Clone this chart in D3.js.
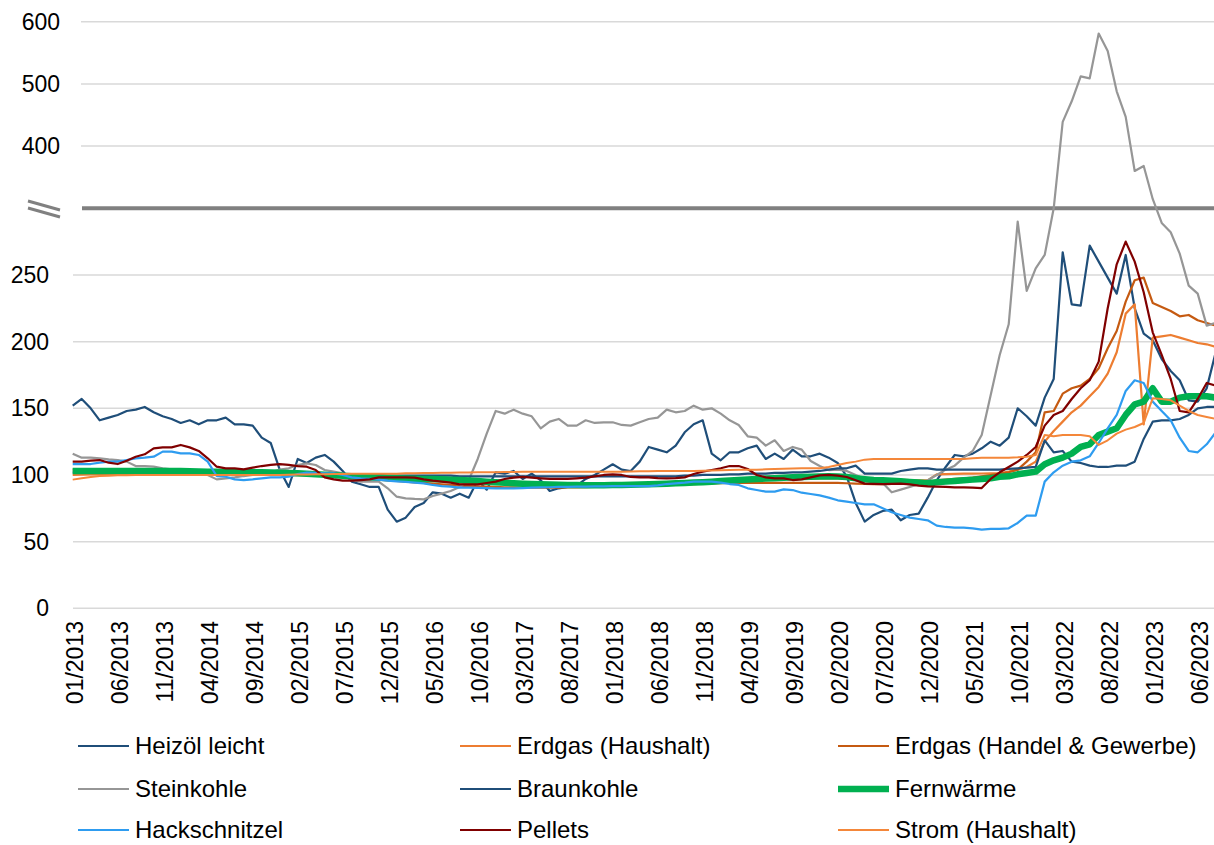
<!DOCTYPE html>
<html>
<head>
<meta charset="utf-8">
<script src="https://cdn.jsdelivr.net/npm/d3@7"></script>
<style>
  body { margin: 0; background: #fff; }
  svg { display: block; font-family: "Liberation Sans", Arial, sans-serif; }
</style>
</head>
<body>
<svg id="chart" width="1214" height="845"></svg>
<script>

// Monthly index values, 01/2013 .. 08/2023 (128 months)
var firstYear = 2013;

var tickLabels = ["01/2013", "06/2013", "11/2013", "04/2014", "09/2014", "02/2015", "07/2015",
  "12/2015", "05/2016", "10/2016", "03/2017", "08/2017", "01/2018", "06/2018", "11/2018",
  "04/2019", "09/2019", "02/2020", "07/2020", "12/2020", "05/2021", "10/2021", "03/2022",
  "08/2022", "01/2023", "06/2023"];

var lowerTicks = [0, 50, 100, 150, 200, 250];
var upperTicks = [400, 500, 600];

var heizoel = [
  152, 157, 150, 141, 143, 145, 148, 149, 151, 147,
  144, 142, 139, 141, 138, 141, 141, 143, 138, 138,
  137, 128, 124, 104, 91, 112, 109, 113, 115, 110,
  103, 95, 93, 91, 91, 74, 65, 68, 76, 79,
  87, 86, 83, 86, 83, 96, 89, 102, 101, 103,
  97, 101, 96, 88, 90, 91, 92, 97, 100, 104,
  108, 104, 103, 110, 121, 119, 117, 122, 132, 138,
  141, 116, 111, 117, 117, 120, 122, 112, 116, 112,
  119, 114, 114, 116, 113, 109, 99, 79, 65, 70,
  73, 74, 66, 70, 71, 83, 96, 106, 115, 114,
  116, 120, 125, 122, 128, 150, 144, 137, 158, 172,
  267, 228, 227, 272, 260, 248, 236, 265, 225, 206,
  201, 187, 178, 171, 156, 155, 165, 192];

var gasHaushalt = [
  100, 100.2, 100.4, 100.5, 100.6, 100.6, 100.7, 100.7, 100.7, 100.7,
  100.8, 100.8, 100.8, 100.8, 100.8, 100.8, 100.8, 100.8, 100.7, 100.7,
  100.6, 100.5, 100.4, 100.3, 100.2, 100, 99.8, 99.6, 99.4, 99.2,
  99, 98.7, 98.4, 98, 97.6, 97.2, 96.8, 96.4, 96, 95.7,
  95.4, 95.1, 94.8, 94.5, 94.3, 94.1, 94, 93.8, 93.6, 93.5,
  93.4, 93.3, 93.2, 93.1, 93, 93, 93, 93, 93, 93,
  93, 93, 93.2, 93.4, 93.6, 93.8, 94, 94.2, 94.5, 94.8,
  95, 95.3, 95.6, 95.9, 96.2, 96.5, 96.7, 96.9, 97, 97.1,
  97.2, 97.3, 97.4, 97.5, 97.5, 97.5, 97.4, 97.3, 97.2, 97,
  96.8, 96.6, 96.4, 96.2, 96, 96, 100.5, 100.7, 100.8, 101,
  101, 101.1, 101.2, 101.2, 102.5, 104, 106, 110, 125, 133,
  140, 147, 152, 159, 166, 176, 192, 221, 228, 138,
  203, 204, 205, 203, 201, 199, 198, 196];

var gasGewerbe = [
  104, 104.2, 104.3, 104.3, 104.2, 104, 103.8, 103.7, 103.6, 103.5,
  103.4, 103.3, 103.2, 103, 102.6, 102.2, 101.8, 101.4, 101, 100.7,
  100.5, 100.3, 100.2, 100.1, 100, 99.9, 99.8, 99.5, 99.2, 99,
  98.5, 98, 97.5, 97, 96.5, 96, 95.5, 95, 94.5, 94,
  93.5, 93, 92.5, 92, 91.7, 91.4, 91.2, 91, 90.8, 90.7,
  90.6, 90.5, 90.5, 90.5, 90.5, 90.6, 90.7, 90.8, 91, 91.2,
  91.4, 91.6, 91.8, 92, 92.2, 92.4, 92.6, 92.8, 93, 93.2,
  93.4, 93.6, 93.8, 94, 94, 94, 94, 94, 94, 94,
  94, 94, 94, 94, 94, 94, 93.8, 93.5, 93.3, 93.2,
  93.2, 93.3, 93.5, 93.7, 94, 94.2, 96, 96.5, 97, 97.5,
  98, 99, 100, 101, 102, 104, 110, 117, 147, 148,
  161, 165, 167, 172, 180, 195, 208, 230, 246, 248,
  229, 226, 223, 219, 220, 216, 214, 212];

var steinkohle = [
  116, 113, 113, 112.5, 111.7, 111.2, 110, 106.7, 106.7, 106.2,
  105, 104.2, 103.7, 103.2, 103, 100, 96.7, 97.5, 98.2, 99.2,
  100, 101, 102, 104, 105, 107.5, 108.7, 107.5, 103.7, 102.5,
  101.2, 96.2, 95, 95, 95, 90, 83.7, 82.5, 82, 81.7,
  84.2, 86, 88, 91, 96, 112, 131, 148, 146, 149,
  146, 144, 135, 140, 142, 137, 137, 141, 139, 139.5,
  139.5, 137.5, 137, 139.5, 142, 143, 149, 147, 148, 152,
  149, 150, 146, 141, 137.5, 129, 128, 122, 126, 118,
  121, 119, 110.5, 106.7, 103.7, 104, 103, 100, 97, 95,
  94, 87, 89, 91, 93, 96, 100, 104, 107, 113,
  118, 130, 160, 190, 213, 290, 238, 255, 265, 300,
  439, 472, 512, 509, 581, 553, 488, 447, 360, 368,
  315, 289, 282, 266, 242, 236, 212, 214];

var braunkohle = [
  102, 102, 102, 102, 102, 102, 102, 102, 102, 102,
  102, 102, 102, 102, 101.5, 101.5, 101, 101, 101, 101,
  101, 101, 101, 101, 100.5, 100.5, 100.5, 100.5, 100, 100,
  100, 100, 100, 100, 100, 99.5, 99.5, 99.5, 99.5, 99.5,
  99.5, 99.5, 99.5, 99, 99, 99, 99, 99, 99, 99,
  99, 99, 99, 99, 99, 99, 99, 99, 99, 99,
  99, 99, 99, 99, 99, 99, 99, 99, 99.5, 99.5,
  100, 100, 100, 100.5, 100.5, 101, 101, 101, 101.5, 101.5,
  102, 102, 102.5, 103, 104, 105, 105, 107, 101, 101,
  101, 101, 103, 104, 105, 105, 104, 104, 104, 104,
  104, 104, 104, 104, 104.5, 105, 105.5, 106, 126, 117,
  118, 110, 109, 107, 106, 106, 107, 107, 110, 127,
  140, 141, 141, 142, 145, 150, 151, 151];

var fernwaerme = [
  103, 103, 103, 103, 103, 103, 103, 103, 103, 103,
  103, 103, 103, 102.8, 102.6, 102.5, 102.4, 102.3, 102.2, 102.1,
  102, 102, 101.8, 101.6, 101.4, 101.2, 101, 100.6, 100.2, 99.8,
  99.4, 99, 98.6, 98.2, 98, 97.8, 97.6, 97.4, 97.2, 97,
  97, 96.8, 96.5, 96.2, 95.8, 95.4, 95, 94.6, 94.2, 93.8,
  93.5, 93.2, 93, 92.8, 92.6, 92.5, 92.4, 92.3, 92.3, 92.3,
  92.4, 92.5, 92.6, 92.8, 93, 93.2, 93.5, 93.8, 94, 94.3,
  94.6, 95, 95.4, 95.8, 96.2, 96.6, 97, 97.3, 97.6, 97.9,
  98.2, 98.4, 98.6, 98.8, 99, 98.8, 98.5, 97.5, 96.8, 96.2,
  96, 95.6, 95.2, 94.8, 94.4, 93.8, 94.5, 95, 95.5, 96,
  96.5, 97, 97.5, 98.7, 99, 100.5, 101.5, 102.5, 108, 111,
  113, 116, 121, 123, 130, 132.5, 135, 145, 153, 155,
  165, 155, 155, 158, 159, 159, 159, 158];

var hackschnitzel = [
  108.2, 108.2, 108.2, 109.2, 110, 110, 111.2, 112.5, 113, 113.7,
  117.5, 117.5, 116.2, 116.2, 115, 110, 99.2, 98.7, 96.7, 96.2,
  96.7, 97.5, 98.2, 98.2, 98.7, 100.7, 101.7, 101.5, 101.2, 101.2,
  100, 98.2, 97.5, 97, 96.5, 95.7, 95.2, 94.8, 94.2, 93.7,
  92.5, 91.7, 91.2, 90.5, 90.5, 90.3, 90.2, 90, 90, 90,
  90.2, 90.5, 90.7, 90.8, 91, 91, 91.2, 91.3, 91.5, 91.5,
  91.6, 91.7, 91.7, 91.7, 91.7, 92.2, 93.2, 93.7, 94.2, 95,
  95, 95, 94.2, 93.2, 92.5, 90, 88.7, 87.5, 87.5, 89.2,
  88.7, 86.7, 85.7, 84.7, 83, 81, 80, 79, 78, 78,
  75, 72, 70, 68, 67, 66, 62, 61, 60.5, 60.5,
  60, 59, 59.5, 59.5, 60, 64, 69.5, 69.5, 95, 102,
  107, 110, 111, 114, 124, 135, 145, 163, 171, 169,
  155, 148, 141, 128, 118, 117, 123, 132];

var pellets = [
  110, 110, 110.7, 111.2, 109.2, 108.2, 110.7, 113.7, 115.5, 120,
  120.7, 120.7, 122.5, 120.7, 118, 112.5, 106.2, 105, 105, 104.2,
  105.5, 106.7, 107.5, 108.2, 107.5, 106.7, 106.2, 103.7, 98.2, 96.7,
  95.7, 95.7, 96.2, 96.7, 98.2, 98.2, 98.2, 98.2, 98, 96.7,
  95.7, 95, 94.2, 93, 93, 93, 94, 95, 97, 98,
  98.5, 98, 97.5, 97, 97, 97, 97.5, 98, 99, 100,
  100.5, 100, 98.5, 98.2, 98.2, 97.7, 97.5, 97.7, 98.2, 100.7,
  102.5, 103.7, 105, 106.7, 106.7, 104.5, 100, 98.2, 97.5, 97.5,
  96.2, 96.7, 98.2, 99.7, 100, 99.5, 98.5, 96, 93.5, 93.3,
  93.2, 93.3, 93.5, 93, 92, 91.5, 91.2, 91, 90.7, 90.7,
  90.5, 90.2, 97, 102, 106, 110, 115, 121, 137, 145,
  148, 157, 165, 171, 185, 225, 258, 275, 260, 237,
  207, 190, 172, 148, 147, 157, 169, 167];

var strom = [
  96.5, 97.5, 98.5, 99.2, 99.5, 99.7, 99.8, 99.9, 100, 100,
  100, 100, 100, 100, 100, 100, 100, 100, 100, 100,
  100, 100, 100, 100, 100.2, 100.3, 100.4, 100.5, 100.6, 100.7,
  100.8, 100.9, 101, 101, 101, 101, 101, 101.2, 101.3, 101.4,
  101.5, 101.6, 101.7, 101.8, 101.9, 102, 102, 102.1, 102.2, 102.3,
  102.4, 102.5, 102.5, 102.5, 102.5, 102.5, 102.5, 102.5, 102.5, 102.5,
  102.5, 102.5, 102.6, 102.7, 102.8, 103, 103, 103, 103, 103,
  103.2, 103.4, 103.6, 103.8, 104, 104, 104, 104.2, 104.4, 104.6,
  104.8, 105, 105, 105, 106, 107.5, 109, 110, 111.5, 112,
  112, 112, 112, 112, 112, 112, 112, 112, 112, 112,
  112.5, 113, 113, 113, 113, 113.2, 113.7, 115, 130, 129,
  130, 130, 130, 129, 122.5, 126, 131, 134, 136, 139,
  157.5, 157, 156, 152, 148, 145, 143.5, 142];

// Legend order = drawing order
var seriesNames = ["Heizöl leicht", "Erdgas (Haushalt)", "Erdgas (Handel & Gewerbe)",
  "Steinkohle", "Braunkohle", "Fernwärme", "Hackschnitzel", "Pellets", "Strom (Haushalt)"];
var seriesValues = [heizoel, gasHaushalt, gasGewerbe, steinkohle, braunkohle,
  fernwaerme, hackschnitzel, pellets, strom];
var seriesColors = ["#1f4e79", "#ed7d31", "#c55a11", "#969696", "#1f4e79",
  "#00b050", "#2e9cf0", "#800000", "#f4873a"];
var seriesWidths = [2.2, 2.2, 2.2, 2.2, 2.2, 6.5, 2.2, 2.2, 2];

var svg = d3.select("#chart");

// Plot area (category axis on tick marks, one month = 9px)
var x0 = 72.7, step = 9.0;
var nMonths = heizoel.length;
var xScale = d3.scaleLinear()
  .domain([0, nMonths - 1])
  .range([x0, x0 + step * (nMonths - 1)]);

// Broken value axis: 0-300 below the break, 300-600 above it
var yScale = d3.scaleLinear()
  .domain([0, 300, 600])
  .range([608.3, 208.3, 21.7]);

var right = 1214;

// Gridlines lower part
svg.append("g")
  .selectAll("line")
  .data(lowerTicks)
  .enter().append("line")
  .attr("x1", 73).attr("x2", right)
  .attr("y1", function(d) { return yScale(d); })
  .attr("y2", function(d) { return yScale(d); })
  .style("stroke", "#d9d9d9")
  .style("stroke-width", 1.5);

// Gridlines upper part
svg.append("g")
  .selectAll("line")
  .data(upperTicks)
  .enter().append("line")
  .attr("x1", 81).attr("x2", right)
  .attr("y1", function(d) { return yScale(d); })
  .attr("y2", function(d) { return yScale(d); })
  .style("stroke", "#d9d9d9")
  .style("stroke-width", 1.5);

// Y labels
svg.append("g")
  .selectAll("text")
  .data(lowerTicks)
  .enter().append("text")
  .attr("x", 49)
  .attr("y", function(d) { return yScale(d); })
  .attr("dy", "0.35em")
  .attr("text-anchor", "end")
  .style("font-size", "23px")
  .style("fill", "#000")
  .text(function(d) { return d; });

svg.append("g")
  .selectAll("text")
  .data(upperTicks)
  .enter().append("text")
  .attr("x", 60)
  .attr("y", function(d) { return yScale(d); })
  .attr("dy", "0.35em")
  .attr("text-anchor", "end")
  .style("font-size", "23px")
  .style("fill", "#000")
  .text(function(d) { return d; });

// Axis break
svg.append("line")
  .attr("x1", 82).attr("x2", right)
  .attr("y1", yScale(300)).attr("y2", yScale(300))
  .style("stroke", "#808080")
  .style("stroke-width", 4);

svg.append("g")
  .selectAll("line")
  .data([0, 7])
  .enter().append("line")
  .attr("x1", 28).attr("x2", 60)
  .attr("y1", function(d) { return 201 + d; })
  .attr("y2", function(d) { return 210 + d; })
  .style("stroke", "#808080")
  .style("stroke-width", 3);

// X labels (rotated)
function monthIndex(label) {
  var p = label.split("/");
  return (+p[1] - firstYear) * 12 + (+p[0] - 1);
}

svg.append("g")
  .selectAll("text")
  .data(tickLabels)
  .enter().append("text")
  .attr("transform", function(d) {
    return "translate(" + (xScale(monthIndex(d)) + 2) + ",621) rotate(-90)";
  })
  .attr("dy", "0.35em")
  .attr("text-anchor", "end")
  .style("font-size", "23px")
  .style("fill", "#000")
  .text(function(d) { return d; });

// Series lines
var line = d3.line()
  .x(function(d, i) { return xScale(i); })
  .y(function(d) { return yScale(d); });

svg.append("g")
  .selectAll("path")
  .data(seriesValues)
  .enter().append("path")
  .attr("d", line)
  .style("fill", "none")
  .style("stroke", function(d, i) { return seriesColors[i]; })
  .style("stroke-width", function(d, i) { return seriesWidths[i]; })
  .style("stroke-linejoin", "round");

// Legend, 3 columns x 3 rows
var legCols = [78, 460, 838];
var legRows = [746, 789, 830];

var legend = svg.append("g")
  .selectAll("g")
  .data(seriesNames)
  .enter().append("g")
  .attr("transform", function(d, i) {
    return "translate(" + legCols[i % 3] + "," + legRows[Math.floor(i / 3)] + ")";
  });

legend.append("line")
  .attr("x1", 0).attr("x2", 51)
  .attr("y1", 0).attr("y2", 0)
  .style("stroke", function(d, i) { return seriesColors[i]; })
  .style("stroke-width", function(d, i) { return seriesWidths[i]; });

legend.append("text")
  .attr("x", 57)
  .attr("y", 0)
  .attr("dy", "0.35em")
  .style("font-size", "24px")
  .style("fill", "#000")
  .text(function(d) { return d; });

</script>
</body>
</html>
